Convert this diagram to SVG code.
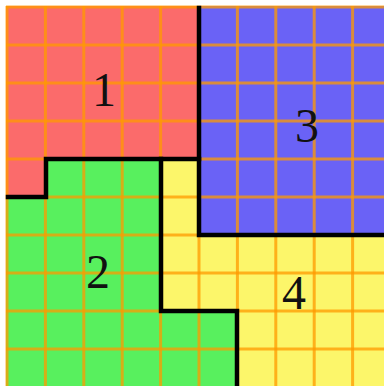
<svg xmlns="http://www.w3.org/2000/svg" width="384" height="386" viewBox="0 0 384 386">
<style>
.grid line{stroke:#ff9a00;stroke-width:3;opacity:0.75}
.border{fill:none;stroke:#000;stroke-width:4.5;stroke-linejoin:miter;stroke-linecap:square}
.lbl{font-family:"Liberation Serif",serif;font-size:48px;fill:#111;text-anchor:middle}
</style>
<rect width="384" height="386" fill="#fff"/>
<g id="region1"><polygon points="6,6 199,6 199,159 46,159 46,197 6,197" fill="#fb6b6b"/></g>
<g id="region3"><polygon points="199,6 384,6 384,235 199,235" fill="#6a62f6"/></g>
<g id="region2"><polygon points="6,197 46,197 46,159 161,159 161,311 237,311 237,386 6,386" fill="#58f05e"/></g>
<g id="region4"><polygon points="161,159 199,159 199,235 384,235 384,386 237,386 237,311 161,311" fill="#fcf66a"/></g>
<g class="grid">
<line x1="7" y1="6" x2="7" y2="386"/>
<line x1="45.4" y1="6" x2="45.4" y2="386"/>
<line x1="83.8" y1="6" x2="83.8" y2="386"/>
<line x1="122.2" y1="6" x2="122.2" y2="386"/>
<line x1="160.6" y1="6" x2="160.6" y2="386"/>
<line x1="199" y1="6" x2="199" y2="386"/>
<line x1="237.4" y1="6" x2="237.4" y2="386"/>
<line x1="275.8" y1="6" x2="275.8" y2="386"/>
<line x1="314.2" y1="6" x2="314.2" y2="386"/>
<line x1="352.6" y1="6" x2="352.6" y2="386"/>
<line x1="6" y1="7" x2="384" y2="7"/>
<line x1="6" y1="45" x2="384" y2="45"/>
<line x1="6" y1="83" x2="384" y2="83"/>
<line x1="6" y1="121" x2="384" y2="121"/>
<line x1="6" y1="159" x2="384" y2="159"/>
<line x1="6" y1="197" x2="384" y2="197"/>
<line x1="6" y1="235" x2="384" y2="235"/>
<line x1="6" y1="273" x2="384" y2="273"/>
<line x1="6" y1="311" x2="384" y2="311"/>
<line x1="6" y1="349" x2="384" y2="349"/>
</g>
<g id="borders">
<polyline class="border" points="8,197 46,197 46,159 199,159"/>
<polyline class="border" points="199,8 199,235 386,235"/>
<polyline class="border" points="161,159 161,311 237,311 237,388"/>
</g>
<g id="labels">
<text class="lbl" x="104" y="106">1</text>
<text class="lbl" x="307" y="142">3</text>
<text class="lbl" x="98" y="288">2</text>
<text class="lbl" x="294" y="309">4</text>
</g>
</svg>
